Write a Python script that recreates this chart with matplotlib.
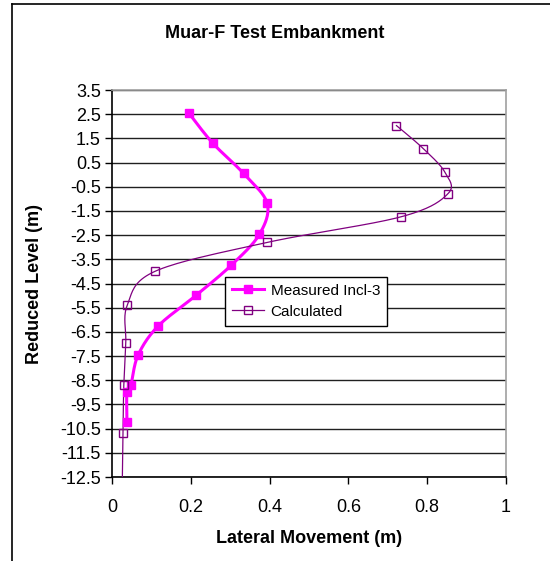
import numpy as np
import matplotlib
matplotlib.use('Agg')
import matplotlib.pyplot as plt
from matplotlib.lines import Line2D

plt.rcParams['font.family'] = ['Liberation Sans', 'DejaVu Sans']

# --------------------------------------------------------------
# Data
# --------------------------------------------------------------
measured_x = [0.195, 0.256, 0.334, 0.394, 0.374, 0.303, 0.214, 0.117, 0.066, 0.048, 0.038, 0.038]
measured_level = [2.55, 1.30, 0.05, -1.19, -2.47, -3.74, -4.98, -6.26, -7.47, -8.71, -8.97, -10.23]

calc_x = [0.722, 0.790, 0.845, 0.853, 0.734, 0.394, 0.110, 0.039, 0.035, 0.030, 0.028, 0.026]
calc_level = [2.03, 1.08, 0.10, -0.78, -1.74, -2.80, -3.99, -5.38, -6.95, -8.71, -10.69, -12.90]

x_ticks = [0, 0.2, 0.4, 0.6, 0.8, 1]
x_tick_labels = ['0', '0.2', '0.4', '0.6', '0.8', '1']
y_ticks = [3.5, 2.5, 1.5, 0.5, -0.5, -1.5, -2.5, -3.5, -4.5, -5.5, -6.5,
           -7.5, -8.5, -9.5, -10.5, -11.5, -12.5]


# --------------------------------------------------------------
# Function: smooth
# Purpose : Catmull-Rom curve through the points, like Excel's
#           "smoothed line" option.
# --------------------------------------------------------------
def smooth(xs, ys, n=20):
    p = np.column_stack([xs, ys]).astype(float)
    p = np.vstack([p[0], p, p[-1]])
    out = []
    t = np.linspace(0, 1, n, endpoint=False)[:, None]
    for i in range(1, len(p) - 2):
        p0, p1, p2, p3 = p[i - 1], p[i], p[i + 1], p[i + 2]
        seg = 0.5 * ((2 * p1) + (-p0 + p2) * t + (2 * p0 - 5 * p1 + 4 * p2 - p3) * t ** 2
                     + (-p0 + 3 * p1 - 3 * p2 + p3) * t ** 3)
        out.append(seg)
    out.append(p[-2][None, :])
    out = np.vstack(out)
    return out[:, 0], out[:, 1]


fig = plt.figure(figsize=(5.5, 5.61), dpi=100)
ax = fig.add_axes([0.2036, 0.1497, 0.7164, 0.6898])

# smoothed lines
mx, my = smooth(measured_x, measured_level)
ax.plot(mx, my, color='#FF00FF', lw=2.2, zorder=3)
ax.plot(measured_x, measured_level, ls='none', marker='s', ms=6,
        color='#FF00FF', zorder=4)

cx, cy = smooth(calc_x, calc_level)
ax.plot(cx, cy, color='#800080', lw=0.9, zorder=3)
ax.plot(calc_x, calc_level, ls='none', marker='s', ms=5.5,
        mfc='none', mec='#800080', mew=1.0, zorder=4)

ax.set_xlim(0, 1)
ax.set_ylim(-12.5, 3.5)
ax.set_xticks(x_ticks)
ax.set_xticklabels(x_tick_labels)
ax.set_yticks(y_ticks)
ax.set_yticklabels([f'{v:g}' for v in y_ticks])
ax.tick_params(direction='out', length=5, width=1, labelsize=13, color='black')
ax.tick_params(axis='x', pad=11)
ax.tick_params(axis='y', pad=3)

ax.grid(True, axis='y', color='#202020', lw=1)
ax.set_axisbelow(True)
ax.spines['left'].set_color('black')
ax.spines['bottom'].set_color('black')
ax.spines['top'].set_color('#A0A0A0')
ax.spines['right'].set_color('#A0A0A0')
for s in ax.spines.values():
    s.set_linewidth(1.2)

ax.set_xlabel('Lateral Movement (m)', fontsize=13, fontweight='bold', labelpad=10)
ax.set_ylabel('Reduced Level (m)', fontsize=13, fontweight='bold', labelpad=12)
fig.text(0.5, 0.941, 'Muar-F Test Embankment', ha='center', va='center',
         fontsize=13, fontweight='bold')

handles = [
    Line2D([], [], color='#FF00FF', lw=2.2, marker='s', ms=6),
    Line2D([], [], color='#800080', lw=0.9, marker='s', ms=5.5, mfc='none', mew=1.0),
]
leg = ax.legend(handles, ['Measured Incl-3', 'Calculated'], loc='upper left',
                bbox_to_anchor=(0.288, 0.517), borderaxespad=0, fontsize=11,
                frameon=True, fancybox=False, framealpha=1, edgecolor='black',
                handlelength=2.1, handletextpad=0.4, borderpad=0.45,
                labelspacing=0.45)
leg.get_frame().set_linewidth(1.0)

# outer chart frame (left and top edges visible in the reference)
fig.add_artist(Line2D([12 / 550, 12 / 550], [0, 1 - 4 / 561], color='black', lw=1.2))
fig.add_artist(Line2D([12 / 550, 1], [1 - 4 / 561, 1 - 4 / 561], color='black', lw=1.2))

fig.savefig('out.png', dpi=100)
